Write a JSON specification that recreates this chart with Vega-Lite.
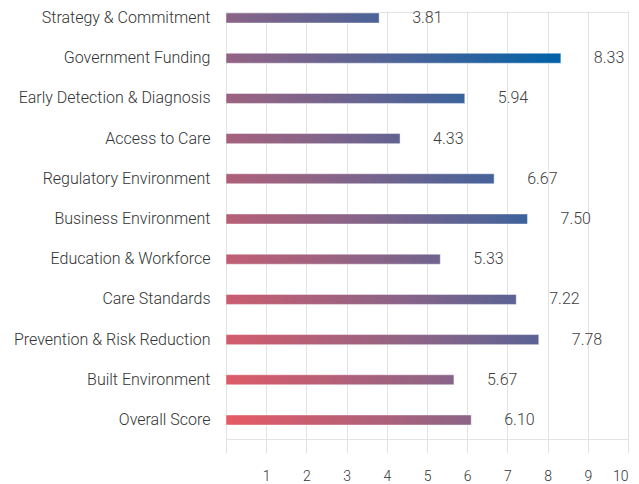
{
  "$schema": "https://vega.github.io/schema/vega-lite/v6.json",
  "autosize": {"type": "none"},
  "padding": {"left": 226, "top": 12, "right": 11, "bottom": 45},
  "width": 402,
  "height": 427,
  "background": "#ffffff",
  "config": {
    "font": "Roboto",
    "view": {"stroke": "#e3e3e3", "strokeWidth": 1}
  },
  "data": {
    "values": [
      {"category": "Strategy & Commitment", "value": 3.81},
      {"category": "Government Funding", "value": 8.33},
      {"category": "Early Detection & Diagnosis", "value": 5.94},
      {"category": "Access to Care", "value": 4.33},
      {"category": "Regulatory Environment", "value": 6.67},
      {"category": "Business Environment", "value": 7.50},
      {"category": "Education & Workforce", "value": 5.33},
      {"category": "Care Standards", "value": 7.22},
      {"category": "Prevention & Risk Reduction", "value": 7.78},
      {"category": "Built Environment", "value": 5.67},
      {"category": "Overall Score", "value": 6.10}
    ]
  },
  "encoding": {
    "y": {
      "field": "category",
      "type": "nominal",
      "sort": null,
      "title": null,
      "scale": {
        "domain": ["Strategy & Commitment", "Government Funding", "Early Detection & Diagnosis", "Access to Care", "Regulatory Environment", "Business Environment", "Education & Workforce", "Care Standards", "Prevention & Risk Reduction", "Built Environment", "Overall Score"],
        "range": [-14.1, 428.1],
        "paddingInner": 0.75,
        "paddingOuter": 0.375
      },
      "axis": {
        "ticks": false,
        "domain": false,
        "grid": false,
        "labelPadding": 16,
        "labelFontSize": 16,
        "labelFontWeight": 300,
        "labelLimit": 0,
        "labelColor": "#333333",
        "labelFont": "Roboto"
      }
    },
    "x": {
      "field": "value",
      "type": "quantitative",
      "title": null,
      "scale": {"domain": [0, 10], "nice": false, "zero": true},
      "axis": {
        "values": [0, 1, 2, 3, 4, 5, 6, 7, 8, 9, 10],
        "labelExpr": "datum.value == 0 ? '' : datum.label",
        "ticks": false,
        "domain": false,
        "grid": true,
        "gridColor": "#e3e3e3",
        "labelPadding": 30,
        "labelFontSize": 14,
        "labelFontWeight": 300,
        "labelColor": "#333333",
        "labelFont": "Roboto"
      }
    }
  },
  "layer": [
    {"transform": [{"filter": "datum.category == 'Strategy & Commitment'"}],
     "mark": {"type": "bar", "stroke": "#ffffff", "strokeOpacity": 0.45, "strokeWidth": 1,
       "color": {"gradient": "linear", "x1": 0, "y1": 0, "x2": 1, "y2": 0,
         "stops": [{"offset": 0, "color": "#8b6487"}, {"offset": 1, "color": "#4b6398"}]}}},
    {"transform": [{"filter": "datum.category == 'Government Funding'"}],
     "mark": {"type": "bar", "stroke": "#ffffff", "strokeOpacity": 0.45, "strokeWidth": 1,
       "color": {"gradient": "linear", "x1": 0, "y1": 0, "x2": 1, "y2": 0,
         "stops": [{"offset": 0, "color": "#946384"}, {"offset": 0.067, "color": "#8c6487"}, {"offset": 0.524, "color": "#4c6398"}, {"offset": 1, "color": "#0062a8"}]}}},
    {"transform": [{"filter": "datum.category == 'Early Detection & Diagnosis'"}],
     "mark": {"type": "bar", "stroke": "#ffffff", "strokeOpacity": 0.45, "strokeWidth": 1,
       "color": {"gradient": "linear", "x1": 0, "y1": 0, "x2": 1, "y2": 0,
         "stops": [{"offset": 0, "color": "#9d6280"}, {"offset": 0.197, "color": "#8c6487"}, {"offset": 0.838, "color": "#4c6398"}, {"offset": 1, "color": "#39639c"}]}}},
    {"transform": [{"filter": "datum.category == 'Access to Care'"}],
     "mark": {"type": "bar", "stroke": "#ffffff", "strokeOpacity": 0.45, "strokeWidth": 1,
       "color": {"gradient": "linear", "x1": 0, "y1": 0, "x2": 1, "y2": 0,
         "stops": [{"offset": 0, "color": "#a6617d"}, {"offset": 0.41, "color": "#8c6487"}, {"offset": 1, "color": "#616392"}]}}},
    {"transform": [{"filter": "datum.category == 'Regulatory Environment'"}],
     "mark": {"type": "bar", "stroke": "#ffffff", "strokeOpacity": 0.45, "strokeWidth": 1,
       "color": {"gradient": "linear", "x1": 0, "y1": 0, "x2": 1, "y2": 0,
         "stops": [{"offset": 0, "color": "#af6079"}, {"offset": 0.358, "color": "#8c6487"}, {"offset": 0.928, "color": "#4c6398"}, {"offset": 1, "color": "#43639a"}]}}},
    {"transform": [{"filter": "datum.category == 'Business Environment'"}],
     "mark": {"type": "bar", "stroke": "#ffffff", "strokeOpacity": 0.45, "strokeWidth": 1,
       "color": {"gradient": "linear", "x1": 0, "y1": 0, "x2": 1, "y2": 0,
         "stops": [{"offset": 0, "color": "#b85f76"}, {"offset": 0.4, "color": "#8c6487"}, {"offset": 0.907, "color": "#4c6398"}, {"offset": 1, "color": "#39639c"}]}}},
    {"transform": [{"filter": "datum.category == 'Education & Workforce'"}],
     "mark": {"type": "bar", "stroke": "#ffffff", "strokeOpacity": 0.45, "strokeWidth": 1,
       "color": {"gradient": "linear", "x1": 0, "y1": 0, "x2": 1, "y2": 0,
         "stops": [{"offset": 0, "color": "#c25e73"}, {"offset": 0.677, "color": "#8c6487"}, {"offset": 1, "color": "#6f648f"}]}}},
    {"transform": [{"filter": "datum.category == 'Care Standards'"}],
     "mark": {"type": "bar", "stroke": "#ffffff", "strokeOpacity": 0.45, "strokeWidth": 1,
       "color": {"gradient": "linear", "x1": 0, "y1": 0, "x2": 1, "y2": 0,
         "stops": [{"offset": 0, "color": "#cb5d6f"}, {"offset": 0.585, "color": "#8c6487"}, {"offset": 1, "color": "#5a6394"}]}}},
    {"transform": [{"filter": "datum.category == 'Prevention & Risk Reduction'"}],
     "mark": {"type": "bar", "stroke": "#ffffff", "strokeOpacity": 0.45, "strokeWidth": 1,
       "color": {"gradient": "linear", "x1": 0, "y1": 0, "x2": 1, "y2": 0,
         "stops": [{"offset": 0, "color": "#d45c6c"}, {"offset": 0.621, "color": "#8c6487"}, {"offset": 1, "color": "#5a6394"}]}}},
    {"transform": [{"filter": "datum.category == 'Built Environment'"}],
     "mark": {"type": "bar", "stroke": "#ffffff", "strokeOpacity": 0.45, "strokeWidth": 1,
       "color": {"gradient": "linear", "x1": 0, "y1": 0, "x2": 1, "y2": 0,
         "stops": [{"offset": 0, "color": "#dd5b68"}, {"offset": 0.959, "color": "#8c6487"}, {"offset": 1, "color": "#886488"}]}}},
    {"transform": [{"filter": "datum.category == 'Overall Score'"}],
     "mark": {"type": "bar", "stroke": "#ffffff", "strokeOpacity": 0.45, "strokeWidth": 1,
       "color": {"gradient": "linear", "x1": 0, "y1": 0, "x2": 1, "y2": 0,
         "stops": [{"offset": 0, "color": "#e65a65"}, {"offset": 1, "color": "#8c6487"}]}}},
    {"mark": {"type": "text", "align": "left", "baseline": "middle", "dx": 33, "dy": 0, "fontSize": 16, "fontWeight": 300, "color": "#404040", "font": "Roboto"},
     "encoding": {"text": {"field": "value", "type": "quantitative", "format": ".2f"}}}
  ]
}
